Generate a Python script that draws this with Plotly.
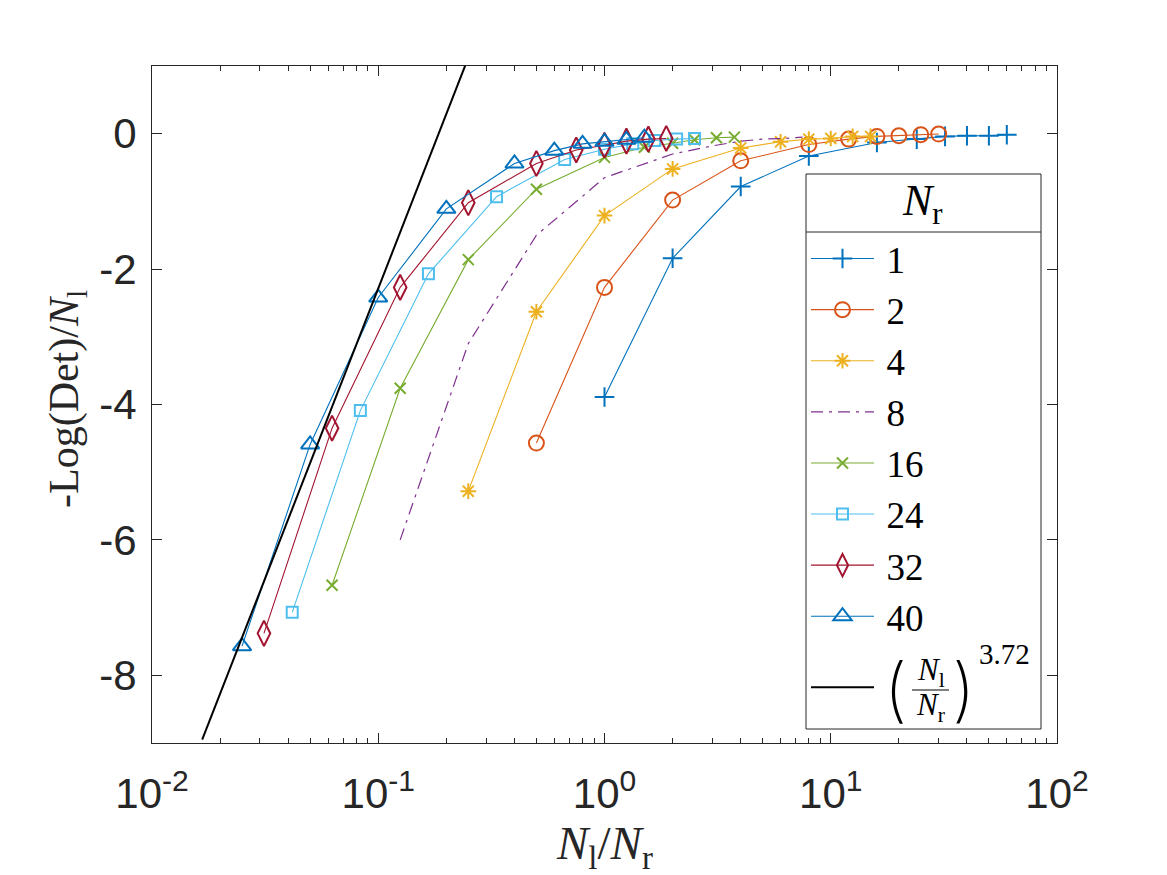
import plotly.graph_objects as go
import numpy as np

# ---- data ----
Nl = [1, 2, 4, 8, 16, 24, 32, 40, 50, 60]
Nr_list = [1, 2, 4, 8, 16, 24, 32, 40]

y_nr1 = [-3.89, -1.84, -0.78, -0.33, -0.13, -0.08, -0.04, -0.03, -0.03, -0.015]
y_nr2 = [-4.57, -2.27, -0.98, -0.40, -0.16, -0.08, -0.04, -0.03, -0.015, -0.005]
y_nr4 = [-5.28, -2.63, -1.21, -0.52, -0.21, -0.12, -0.08, -0.07, -0.04, -0.04]
y_nr8 = [-6.00, -3.10, -1.50, -0.65, -0.30, -0.18, -0.11, -0.08, -0.07, -0.05]
y_nr16 = [-6.67, -3.76, -1.86, -0.82, -0.35, -0.20, -0.14, -0.09, -0.06, -0.05]
y_nr24 = [-7.07, -4.09, -2.07, -0.93, -0.38, -0.23, -0.15, -0.10, -0.08, -0.07]
y_nr32 = [-7.38, -4.35, -2.27, -1.02, -0.44, -0.24, -0.17, -0.11, -0.08, -0.07]
y_nr40 = [-7.57, -4.59, -2.42, -1.11, -0.44, -0.25, -0.15, -0.12, -0.09, -0.06]
series_y = [y_nr1, y_nr2, y_nr4, y_nr8, y_nr16, y_nr24, y_nr32, y_nr40]

# fit line: y = exponent * ln(Nl/Nr) + offset
fit_exponent = 3.72
fit_offset = 6.28
fit_x = [1 / 60, 0.3]

x_tickvals = [0.01, 0.1, 1, 10, 100]
x_exponents = ["-2", "-1", "0", "1", "2"]
y_tickvals = [-8, -6, -4, -2, 0]
y_ticktext = ["-8", "-6", "-4", "-2", "0"]

# ---- styles ----
colors = ["#0072BD", "#D95319", "#EDB120", "#7E2F8E", "#77AC30", "#4DBEEE", "#A2142F", "#0072BD"]
symbols = ["cross-thin-open", "circle-open", "asterisk-open", None, "x-thin-open",
           "square-open", "diamond-tall-open", "triangle-up-open"]
msizes = [14, 15, 13, 0, 11, 11, 18, 16]

SERIF = "Liberation Serif"
SANS = "Liberation Sans Narrow, Liberation Sans"
AX = "#262626"
TICK_FS = 42

# pixel -> paper helpers (plot area 152..1057 x 66..743)
def px(x):
    return (x - 152) / 905

def py(y):
    return (743 - y) / 677

x_ticktext = ["10<sup><span style='font-size:%dpx'>%s</span></sup>" % (int(TICK_FS * 0.72), e)
              for e in x_exponents]

fig = go.Figure()
for nr, ys, c, s, ms in zip(Nr_list, series_y, colors, symbols, msizes):
    xs = [n / nr for n in Nl]
    label = "\u2009" + str(nr)
    if s is None:
        fig.add_trace(go.Scatter(x=xs, y=ys, mode="lines", name=label,
                                 line=dict(color=c, width=1.2, dash="12px,6px,3px,6px"),
                                 legendgroup="data"))
    else:
        fig.add_trace(go.Scatter(x=xs, y=ys, mode="lines+markers", name=label,
                                 line=dict(color=c, width=1.1),
                                 marker=dict(symbol=s, size=ms, color=c, line=dict(width=2, color=c)),
                                 legendgroup="data"))

fx = np.logspace(np.log10(fit_x[0]), np.log10(fit_x[1]), 20)
fy = fit_exponent * np.log(fx) + fit_offset
fig.add_trace(go.Scatter(x=fx, y=fy, mode="lines", name="\u00a0",
                         line=dict(color="black", width=2), legendgroup="fit"))

# legend frame (white box with title separator)
shapes = [
    dict(type="rect", xref="paper", yref="paper", x0=px(806), x1=px(1041), y0=py(729), y1=py(174),
         fillcolor="white", line=dict(color=AX, width=1), layer="above"),
    dict(type="line", xref="paper", yref="paper", x0=px(806), x1=px(1041), y0=py(232), y1=py(232),
         line=dict(color=AX, width=1), layer="above"),
    # fraction bar of the fit label
    dict(type="line", xref="paper", yref="paper", x0=px(912), x1=px(949), y0=py(690), y1=py(690),
         line=dict(color="black", width=1.2), layer="above"),
]


def ann(text, x, y, size, color="black", angle=0, family=SERIF, weight="normal"):
    return dict(text=text, xref="paper", yref="paper", x=px(x), y=py(y), showarrow=False,
                xanchor="center", yanchor="middle", textangle=angle,
                font=dict(family=family, size=size, color=color, weight=weight))


annotations = [
    ann("<i>N</i><sub>l</sub>/<i>N</i><sub>r</sub>", 604, 846, 47, AX),
    ann("-Log(Det)/<i>N</i><sub>l</sub>", 67, 399, 42, AX, -90),
    # legend title
    ann("<i>N</i><sub>r</sub>", 922, 203, 44),
    # fit label: ( N_l / N_r )^3.72
    ann("(", 895, 688, 70, family="Inter", weight=200),
    ann(")", 963, 688, 70, family="Inter", weight=200),
    ann("<i>N</i><sub>l</sub>", 931, 672, 31),
    ann("<i>N</i><sub>r</sub>", 931, 707, 31),
    ann("3.72", 1004, 654, 29),
]

fig.update_layout(
    width=1167, height=875,
    margin=dict(l=152, r=110, t=66, b=132, pad=0),
    paper_bgcolor="white", plot_bgcolor="white",
    showlegend=True,
    legend=dict(
        x=px(806), y=py(228), xanchor="left", yanchor="top",
        bgcolor="rgba(0,0,0,0)", borderwidth=0,
        font=dict(family=SERIF, size=37, color="black"),
        itemwidth=63, tracegroupgap=20, traceorder="grouped",
    ),
    xaxis=dict(
        type="log", range=[-2, 2], tickvals=x_tickvals, ticktext=x_ticktext,
        ticks="inside", ticklen=10, tickwidth=1, tickcolor=AX,
        showline=True, linecolor=AX, linewidth=1, mirror="ticks",
        showgrid=False, zeroline=False, ticklabelstandoff=14,
        tickfont=dict(family=SANS, size=TICK_FS, color=AX),
        minor=dict(ticks="inside", ticklen=5, tickcolor=AX, dtick="D1", showgrid=False),
    ),
    yaxis=dict(
        range=[-9, 1], tickvals=y_tickvals, ticktext=y_ticktext,
        ticks="inside", ticklen=10, tickwidth=1, tickcolor=AX,
        showline=True, linecolor=AX, linewidth=1, mirror="ticks",
        showgrid=False, zeroline=False, ticklabelstandoff=6,
        tickfont=dict(family=SANS, size=TICK_FS, color=AX),
    ),
    shapes=shapes,
    annotations=annotations,
)

fig.write_html("out.html")
